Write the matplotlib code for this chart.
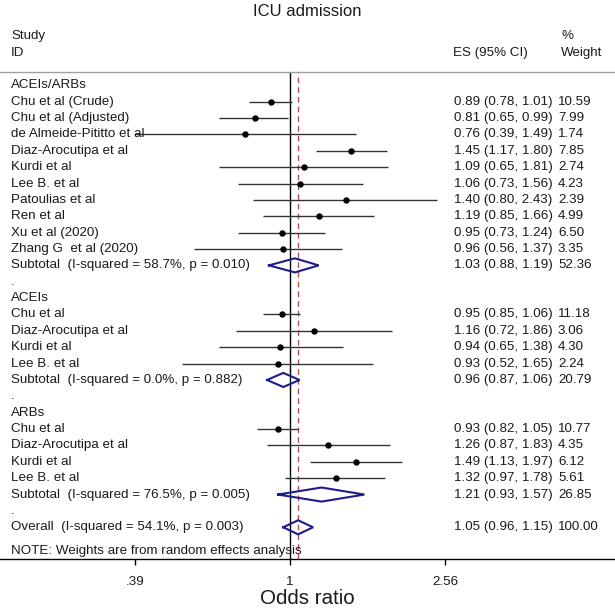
import matplotlib
matplotlib.use("Agg")
import matplotlib.pyplot as plt
from matplotlib.transforms import blended_transform_factory
import numpy as np

plt.rcParams['font.family'] = ['Liberation Sans', 'DejaVu Sans']

# ---------------- data ----------------
group_names = ["ACEIs/ARBs", "ACEIs", "ARBs"]

names1 = ["Chu et al (Crude)", "Chu et al (Adjusted)", "de Almeide-Pititto et al",
          "Diaz-Arocutipa et al", "Kurdi et al", "Lee B. et al", "Patoulias et al",
          "Ren et al", "Xu et al (2020)", "Zhang G  et al (2020)"]
es1 = [0.89, 0.81, 0.76, 1.45, 1.09, 1.06, 1.40, 1.19, 0.95, 0.96]
lo1 = [0.78, 0.65, 0.39, 1.17, 0.65, 0.73, 0.80, 0.85, 0.73, 0.56]
hi1 = [1.01, 0.99, 1.49, 1.80, 1.81, 1.56, 2.43, 1.66, 1.24, 1.37]
w1 = [10.59, 7.99, 1.74, 7.85, 2.74, 4.23, 2.39, 4.99, 6.50, 3.35]

names2 = ["Chu et al", "Diaz-Arocutipa et al", "Kurdi et al", "Lee B. et al"]
es2 = [0.95, 1.16, 0.94, 0.93]
lo2 = [0.85, 0.72, 0.65, 0.52]
hi2 = [1.06, 1.86, 1.38, 1.65]
w2 = [11.18, 3.06, 4.30, 2.24]

names3 = ["Chu et al", "Diaz-Arocutipa et al", "Kurdi et al", "Lee B. et al"]
es3 = [0.93, 1.26, 1.49, 1.32]
lo3 = [0.82, 0.87, 1.13, 0.97]
hi3 = [1.05, 1.83, 1.97, 1.78]
w3 = [10.77, 4.35, 6.12, 5.61]

sub_es = [1.03, 0.96, 1.21]
sub_lo = [0.88, 0.87, 0.93]
sub_hi = [1.19, 1.06, 1.57]
sub_w = [52.36, 20.79, 26.85]
sub_i2 = ["58.7%", "0.0%", "76.5%"]
sub_p = ["0.010", "0.882", "0.005"]

overall = (1.05, 0.96, 1.15, 100.00)
overall_i2 = "54.1%"
overall_p = "0.003"

tick_vals = [0.39, 1.0, 2.56]
tick_labels = [".39", "1", "2.56"]

# ---------------- figure ----------------
W, H = 615, 612
fig = plt.figure(figsize=(W / 100, H / 100), dpi=100)

def fy(py):
    return 1 - py / H

ax_top_px, ax_bot_px = 72, 559
ax = fig.add_axes([0, fy(ax_bot_px), 1, (ax_bot_px - ax_top_px) / H])

row0_px, row_h = 85.3, 16.37
ax.set_ylim((ax_bot_px - row0_px) / row_h, (ax_top_px - row0_px) / row_h)
ax.set_xscale('log')
null_px, px_per_ln = 290, 165.0
ax.set_xlim(np.exp((0 - null_px) / px_per_ln), np.exp((W - null_px) / px_per_ln))

TXT = '#1a1a1a'
FS = 9.6
trans = blended_transform_factory(ax.transAxes, ax.transData)
x_lab, x_es, x_w = 11 / W, 454 / W, 558 / W
diam_col = '#1c1c8a'

def fmt_es(e, l, h):
    return f"{e:.2f} ({l:.2f}, {h:.2f})"

def study_row(r, name, e, l, h, w):
    ax.plot([l, h], [r, r], color='#333333', lw=1.0, solid_capstyle='butt', zorder=3)
    ax.plot([e], [r], 'o', color='black', ms=3.6, zorder=4)
    ax.text(x_lab, r, name, transform=trans, fontsize=FS, color=TXT, va='center', ha='left')
    ax.text(x_es, r, fmt_es(e, l, h), transform=trans, fontsize=FS, color=TXT, va='center', ha='left')
    ax.text(x_w, r, f"{w:.2f}", transform=trans, fontsize=FS, color=TXT, va='center', ha='left')

def diamond(r, e, l, h, w, label):
    hh = 0.43
    ax.plot([l, e, h, e, l], [r, r - hh, r, r + hh, r], color=diam_col, lw=1.5, zorder=5,
            solid_joinstyle='miter')
    ax.text(x_lab, r, label, transform=trans, fontsize=FS, color=TXT, va='center', ha='left')
    ax.text(x_es, r, fmt_es(e, l, h), transform=trans, fontsize=FS, color=TXT, va='center', ha='left')
    ax.text(x_w, r, f"{w:.2f}", transform=trans, fontsize=FS, color=TXT, va='center', ha='left')

groups = [(names1, es1, lo1, hi1, w1), (names2, es2, lo2, hi2, w2), (names3, es3, lo3, hi3, w3)]
r = 0
for gi, (nm, e_, l_, h_, w_) in enumerate(groups):
    ax.text(x_lab, r, group_names[gi], transform=trans, fontsize=FS, color=TXT, va='center', ha='left')
    r += 1
    for k in range(len(nm)):
        study_row(r, nm[k], e_[k], l_[k], h_[k], w_[k])
        r += 1
    diamond(r, sub_es[gi], sub_lo[gi], sub_hi[gi], sub_w[gi],
            f"Subtotal  (I-squared = {sub_i2[gi]}, p = {sub_p[gi]})")
    r += 1
    ax.text(x_lab, r, ".", transform=trans, fontsize=FS, color=TXT, va='center', ha='left')
    r += 1
diamond(r, overall[0], overall[1], overall[2], overall[3],
        f"Overall  (I-squared = {overall_i2}, p = {overall_p})")
r += 1
ax.text(x_lab, r + 0.47, "NOTE: Weights are from random effects analysis", transform=trans,
        fontsize=FS, color=TXT, va='center', ha='left', zorder=6)

# reference lines
ax.axvline(1.0, color='black', lw=1.0, zorder=2)
ax.axvline(overall[0], color='#b5504f', lw=1.0, ls=(0, (4, 3)), zorder=2)
ax.axhline(ax.get_ylim()[1], color='#a0a0a0', lw=1.0, clip_on=False)

# axis styling
for s in ['top', 'left', 'right']:
    ax.spines[s].set_visible(False)
ax.spines['bottom'].set_linewidth(1.0)
ax.set_yticks([])
ax.set_xticks(tick_vals)
ax.set_xticklabels(tick_labels)
ax.xaxis.set_minor_locator(matplotlib.ticker.NullLocator())
ax.tick_params(axis='x', direction='out', length=4.5, width=1.0, labelsize=FS, pad=7.5, colors='black',
               labelcolor=TXT)

# headers / titles
fig.text(0.5, fy(12), "ICU admission", ha='center', va='center', fontsize=12, color=TXT)
fig.text(11 / W, fy(36), "Study", ha='left', va='center', fontsize=FS, color=TXT)
fig.text(11 / W, fy(53), "ID", ha='left', va='center', fontsize=FS, color=TXT)
fig.text(453 / W, fy(53), "ES (95% CI)", ha='left', va='center', fontsize=FS, color=TXT)
fig.text(561 / W, fy(36), "%", ha='left', va='center', fontsize=FS, color=TXT)
fig.text(561 / W, fy(53), "Weight", ha='left', va='center', fontsize=FS, color=TXT)
fig.text(0.5, fy(598), "Odds ratio", ha='center', va='center', fontsize=14.8, color=TXT)

fig.savefig("out.png", dpi=100)
